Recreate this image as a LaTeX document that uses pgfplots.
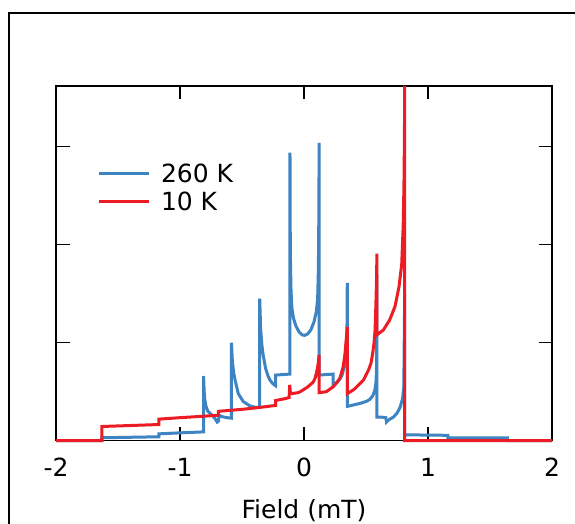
\documentclass[border=0pt]{standalone}
\usepackage{pgfplots}
\pgfplotsset{compat=1.18}
\usepackage{fontspec}
\setmainfont{DejaVu Sans}
\definecolor{c260}{RGB}{62,131,194}
\definecolor{c10}{RGB}{237,28,36}
\newcommand{\lblfont}{\fontsize{25bp}{29bp}\selectfont}
\begin{document}
\begin{tikzpicture}
\begin{axis}[
  scale only axis, width=496bp, height=354.7bp,
  xmin=-2, xmax=2, ymin=0, ymax=3.62,
  clip=false,
  axis line style={line width=1.5pt},
  every tick/.style={black, line width=1.5pt},
  major tick length=13.5bp,
  xtick={-2,-1,0,1,2}, xticklabels={-2,-1,0,1,2},
  ytick={0,1,2,3}, yticklabels={},
  xticklabel style={anchor=base, yshift=-35.5bp, font=\lblfont},
  xlabel={Field (mT)},
  xlabel style={at={(axis description cs:0.5,0)}, anchor=base, yshift=-77.5bp, font=\lblfont},
  legend cell align=left,
  legend style={draw=none, fill=none, inner sep=0pt, outer sep=0pt,
    at={(axis description cs:0.0827,0.7143)}, anchor=west,
    row sep=10.2bp, column sep=11bp, font=\lblfont,
    nodes={inner sep=0pt, text height=18bp, text depth=0bp}},
  legend image code/.code={\draw[#1] (0bp,0bp) -- (50bp,0bp);},
]
% 260 K
\addplot[c260, line width=3bp] coordinates {
(-2,0) (-1.63,0) (-1.63,0.03) (-1.4,0.035) (-1.17,0.04) (-1.17,0.07) (-1.0,0.08) (-0.81,0.09) (-0.81,0.66)
(-0.805,0.50) (-0.80,0.42) (-0.79,0.35) (-0.775,0.30) (-0.75,0.27) (-0.72,0.23) (-0.70,0.19) (-0.69,0.20)
(-0.685,0.26) (-0.66,0.245) (-0.62,0.235) (-0.585,0.23)
(-0.585,1.00) (-0.578,0.82) (-0.568,0.70) (-0.556,0.62) (-0.53,0.48) (-0.49,0.40) (-0.435,0.355) (-0.39,0.34) (-0.357,0.34)
(-0.357,1.45) (-0.35,1.15) (-0.34,0.98) (-0.33,0.88) (-0.31,0.74) (-0.29,0.66) (-0.27,0.61) (-0.25,0.58) (-0.228,0.56)
(-0.228,0.67) (-0.17,0.675) (-0.113,0.68)
(-0.113,2.94) (-0.112,2.4) (-0.110,1.9) (-0.105,1.55) (-0.098,1.36) (-0.085,1.25) (-0.065,1.17) (-0.04,1.11)
(-0.015,1.08) (0.005,1.075) (0.03,1.09) (0.055,1.13) (0.08,1.21) (0.10,1.32) (0.11,1.45) (0.116,1.75)
(0.119,2.2) (0.121,2.7) (0.122,3.04) (0.122,0.67)
(0.18,0.675) (0.234,0.68) (0.234,0.57) (0.26,0.59) (0.29,0.63) (0.31,0.68) (0.325,0.76) (0.336,0.87)
(0.343,1.0) (0.347,1.2) (0.349,1.61) (0.349,0.35)
(0.40,0.365) (0.45,0.38) (0.50,0.40) (0.53,0.42) (0.555,0.46) (0.57,0.51) (0.58,0.59) (0.586,0.75)
(0.588,1.7) (0.588,0.24) (0.63,0.24) (0.66,0.235) (0.665,0.19) (0.68,0.21) (0.72,0.24) (0.75,0.28)
(0.775,0.34) (0.795,0.43) (0.805,0.55) (0.812,1.5) (0.812,0.06) (1.16,0.055) (1.16,0.03) (1.64,0.03) (1.64,0) (2,0)
};
\addlegendentry{260 K}
% 10 K
\addplot[c10, line width=3bp] coordinates {
(-2,0) (-1.63,0) (-1.63,0.145) (-1.4,0.155) (-1.17,0.165) (-1.17,0.22) (-1.0,0.235) (-0.81,0.25) (-0.69,0.26)
(-0.69,0.30) (-0.5,0.32) (-0.355,0.34) (-0.26,0.355) (-0.228,0.36) (-0.228,0.41) (-0.15,0.43) (-0.12,0.44)
(-0.115,0.57) (-0.11,0.49) (-0.10,0.48) (-0.05,0.49) (-0.03,0.50) (0.02,0.54) (0.05,0.57) (0.075,0.60)
(0.09,0.64) (0.10,0.69) (0.11,0.75) (0.117,0.81) (0.121,0.875) (0.121,0.49)
(0.18,0.50) (0.235,0.55) (0.27,0.60) (0.29,0.64) (0.315,0.75) (0.33,0.88) (0.338,1.0) (0.344,1.08) (0.349,1.16)
(0.349,0.48) (0.40,0.52) (0.425,0.55) (0.48,0.62) (0.52,0.72) (0.54,0.79) (0.554,0.89) (0.565,1.0) (0.573,1.13)
(0.58,1.4) (0.585,1.65) (0.588,1.91) (0.588,1.08)
(0.64,1.13) (0.69,1.23) (0.734,1.37) (0.766,1.57) (0.788,1.80) (0.80,2.2) (0.806,2.6) (0.81,3.1) (0.812,3.62)
(0.812,0) (2,0)
};
\addlegendentry{10 K}
\end{axis}
\pgfresetboundingbox
\path[use as bounding box] ([xshift=-56bp,yshift=-83.3bp]current axis.south west) rectangle ([xshift=23bp,yshift=86bp]current axis.north east);
\draw[line width=1.5pt] ([xshift=-47.2bp,yshift=-150bp]current axis.south west) |- ([xshift=60bp,yshift=72.8bp]current axis.north east);
\end{tikzpicture}
\end{document}
